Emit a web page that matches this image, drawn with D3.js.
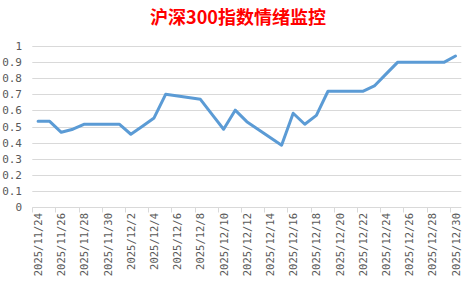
<!DOCTYPE html>
<html>
<head>
<meta charset="utf-8">
<script src="https://cdn.jsdelivr.net/npm/d3@7"></script>
<style>
  body { margin: 0; background: #fff; }
  svg { display: block; }
</style>
</head>
<body>
<svg id="svg" width="476" height="282"></svg>
<script>
"use strict";
const tradeDates = ['2025-11-24', '2025-11-25', '2025-11-26', '2025-11-27', '2025-11-28',
  '2025-12-01', '2025-12-02', '2025-12-03', '2025-12-04', '2025-12-05',
  '2025-12-08', '2025-12-09', '2025-12-10', '2025-12-11', '2025-12-12',
  '2025-12-15', '2025-12-16', '2025-12-17', '2025-12-18', '2025-12-19',
  '2025-12-22', '2025-12-23', '2025-12-24', '2025-12-25', '2025-12-26',
  '2025-12-29', '2025-12-30'];
const sentiment = [0.532, 0.532, 0.464, 0.483, 0.514,
  0.514, 0.452, 0.502, 0.553, 0.699,
  0.668, 0.575, 0.483, 0.601, 0.530,
  0.384, 0.582, 0.514, 0.569, 0.718,
  0.718, 0.751, 0.824, 0.897, 0.897,
  0.897, 0.936];
const yTicks = [0, 0.1, 0.2, 0.3, 0.4, 0.5, 0.6, 0.7, 0.8, 0.9, 1];
const firstDay = '2025-11-24';
const lastDay = '2025-12-30';

function drawChart() {
    const parse = d3.timeParse('%Y-%m-%d');
    const svg = d3.select('#svg');
    const start = parse(firstDay);
    const end = parse(lastDay);
    const half = 12 * 3600 * 1000;
    const x = d3.scaleTime()
        .domain([new Date(+start - half), new Date(+end + half)])
        .range([32.3, 461.3]);
    const y = d3.scaleLinear().domain([0, 1]).range([207.3, 45.7]);

    // title
    svg.append('text')
        .attr('x', 238).attr('y', 24)
        .attr('text-anchor', 'middle')
        .attr('font-family', '"Noto Sans CJK SC", sans-serif')
        .attr('font-weight', 'bold')
        .attr('font-size', 18)
        .attr('fill', '#ff0000')
        .text('沪深300指数情绪监控');

    // gridlines
    svg.append('g')
        .selectAll('line')
        .data(yTicks.filter(d => d > 0))
        .enter()
        .append('line')
        .attr('x1', x.range()[0]).attr('x2', x.range()[1])
        .attr('y1', d => Math.round(y(d)) + 0.5)
        .attr('y2', d => Math.round(y(d)) + 0.5)
        .attr('stroke', '#d9d9d9')
        .attr('stroke-width', 1);

    // y labels
    svg.append('g')
        .selectAll('text')
        .data(yTicks)
        .enter()
        .append('text')
        .attr('x', 22)
        .attr('y', d => y(d) + 4)
        .attr('text-anchor', 'end')
        .attr('font-family', '"DejaVu Sans Mono", monospace')
        .attr('font-size', 11)
        .attr('fill', '#595959')
        .text(d => d3.format('~g')(d));

    // x axis line + ticks
    const days = d3.timeDay.range(start, d3.timeDay.offset(end, 1));
    const labelDays = days.filter((d, i) => i % 2 === 0);
    const y0 = Math.round(y(0)) + 0.5;
    svg.append('line')
        .attr('x1', x.range()[0]).attr('x2', x.range()[1])
        .attr('y1', y0).attr('y2', y0)
        .attr('stroke', '#d9d9d9');
    svg.append('g')
        .selectAll('line')
        .data(labelDays)
        .enter()
        .append('line')
        .attr('x1', d => Math.round(x(new Date(+d - half))) + 0.5)
        .attr('x2', d => Math.round(x(new Date(+d - half))) + 0.5)
        .attr('y1', y0).attr('y2', y0 + 5)
        .attr('stroke', '#d9d9d9');

    const fmt = d3.timeFormat('%Y/%-m/%-d');
    svg.append('g')
        .selectAll('text')
        .data(labelDays)
        .enter()
        .append('text')
        .attr('transform', d => `translate(${x(d) + 4},213) rotate(-90)`)
        .attr('text-anchor', 'end')
        .attr('font-family', '"DejaVu Sans Mono", monospace')
        .attr('font-size', 10.5)
        .attr('fill', '#595959')
        .text(d => fmt(d));

    // line
    const pts = tradeDates.map((d, i) => ({ date: parse(d), value: sentiment[i] }));
    const line = d3.line().x(d => x(d.date)).y(d => y(d.value));
    svg.append('path')
        .datum(pts)
        .attr('d', line)
        .attr('fill', 'none')
        .attr('stroke', '#5b9bd5')
        .attr('stroke-width', 3)
        .attr('stroke-linejoin', 'round')
        .attr('stroke-linecap', 'round');
}
drawChart();
</script>
</body>
</html>
